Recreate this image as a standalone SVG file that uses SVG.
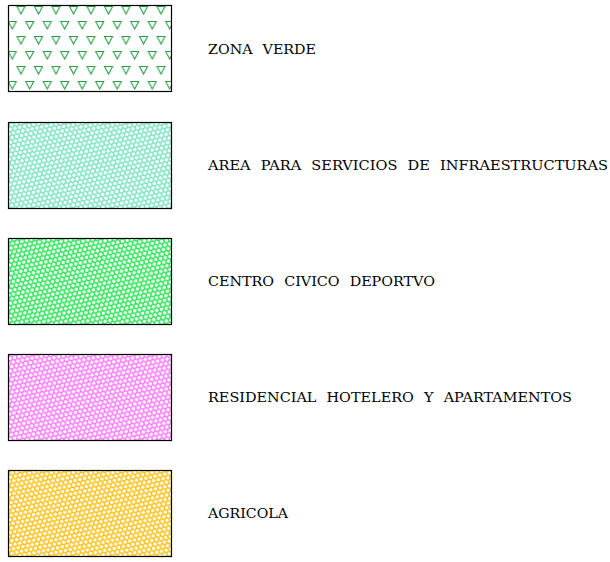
<svg xmlns="http://www.w3.org/2000/svg" width="610" height="562" viewBox="0 0 610 562">
<defs>
<pattern id="tri" patternUnits="userSpaceOnUse" x="0" y="0" width="17.5" height="30">
<path d="M-0.5,6.5 h8 l-4,7.5 z M17,6.5 h8 l-4,7.5 z M8.25,21.5 h8 l-4,7.5 z" fill="none" stroke="#2a9f45" stroke-width="1.1"/>
</pattern>
<g id="hx">
<polygon points="0,-1.9 1.65,-0.95 1.65,0.95 0,1.9 -1.65,0.95 -1.65,-0.95" fill="#fff"/>
</g>
<pattern id="hexC" patternUnits="userSpaceOnUse" width="4.8" height="8.3" patternTransform="rotate(-12)">
<rect width="4.8" height="8.3" fill="#7fe3c6"/>
<use href="#hx" x="0" y="0"/><use href="#hx" x="4.8" y="0"/><use href="#hx" x="0" y="8.3"/><use href="#hx" x="4.8" y="8.3"/><use href="#hx" x="2.4" y="4.15"/>
</pattern>
<pattern id="hexG" patternUnits="userSpaceOnUse" width="4.8" height="8.3" patternTransform="rotate(-12)">
<rect width="4.8" height="8.3" fill="#2ee65a"/>
<use href="#hx" x="0" y="0"/><use href="#hx" x="4.8" y="0"/><use href="#hx" x="0" y="8.3"/><use href="#hx" x="4.8" y="8.3"/><use href="#hx" x="2.4" y="4.15"/>
</pattern>
<pattern id="hexM" patternUnits="userSpaceOnUse" width="4.8" height="8.3" patternTransform="rotate(-12)">
<rect width="4.8" height="8.3" fill="#ff7cff"/>
<use href="#hx" x="0" y="0"/><use href="#hx" x="4.8" y="0"/><use href="#hx" x="0" y="8.3"/><use href="#hx" x="4.8" y="8.3"/><use href="#hx" x="2.4" y="4.15"/>
</pattern>
<pattern id="hexY" patternUnits="userSpaceOnUse" width="4.8" height="8.3" patternTransform="rotate(-12)">
<rect width="4.8" height="8.3" fill="#ffc21a"/>
<use href="#hx" x="0" y="0"/><use href="#hx" x="4.8" y="0"/><use href="#hx" x="0" y="8.3"/><use href="#hx" x="4.8" y="8.3"/><use href="#hx" x="2.4" y="4.15"/>
</pattern>
</defs>
<style>
.box{stroke:#000;stroke-width:1.2}
.lbl{font-family:"DejaVu Serif","Liberation Serif",serif;font-size:13px;fill:#000;word-spacing:5px}
</style>
<rect width="610" height="562" fill="#fff"/>
<g id="zona-verde">
<rect class="box" x="8.5" y="5.5" width="163" height="86" fill="url(#tri)"/>
<text class="lbl" x="208" y="54" textLength="108" lengthAdjust="spacingAndGlyphs">ZONA VERDE</text>
</g>
<g id="area-servicios">
<rect class="box" x="8.5" y="122.5" width="163" height="86" fill="url(#hexC)"/>
<text class="lbl" x="208" y="170" textLength="400" lengthAdjust="spacingAndGlyphs">AREA PARA SERVICIOS DE INFRAESTRUCTURAS</text>
</g>
<g id="centro-civico">
<rect class="box" x="8.5" y="238.5" width="163" height="86" fill="url(#hexG)"/>
<text class="lbl" x="208" y="286" textLength="227" lengthAdjust="spacingAndGlyphs">CENTRO CIVICO DEPORTVO</text>
</g>
<g id="residencial">
<rect class="box" x="8.5" y="354.5" width="163" height="86" fill="url(#hexM)"/>
<text class="lbl" x="208" y="402" textLength="364" lengthAdjust="spacingAndGlyphs">RESIDENCIAL HOTELERO Y APARTAMENTOS</text>
</g>
<g id="agricola">
<rect class="box" x="8.5" y="470.5" width="163" height="86" fill="url(#hexY)"/>
<text class="lbl" x="208" y="518" textLength="80" lengthAdjust="spacingAndGlyphs">AGRICOLA</text>
</g>
<g id="connectors"/>
</svg>
